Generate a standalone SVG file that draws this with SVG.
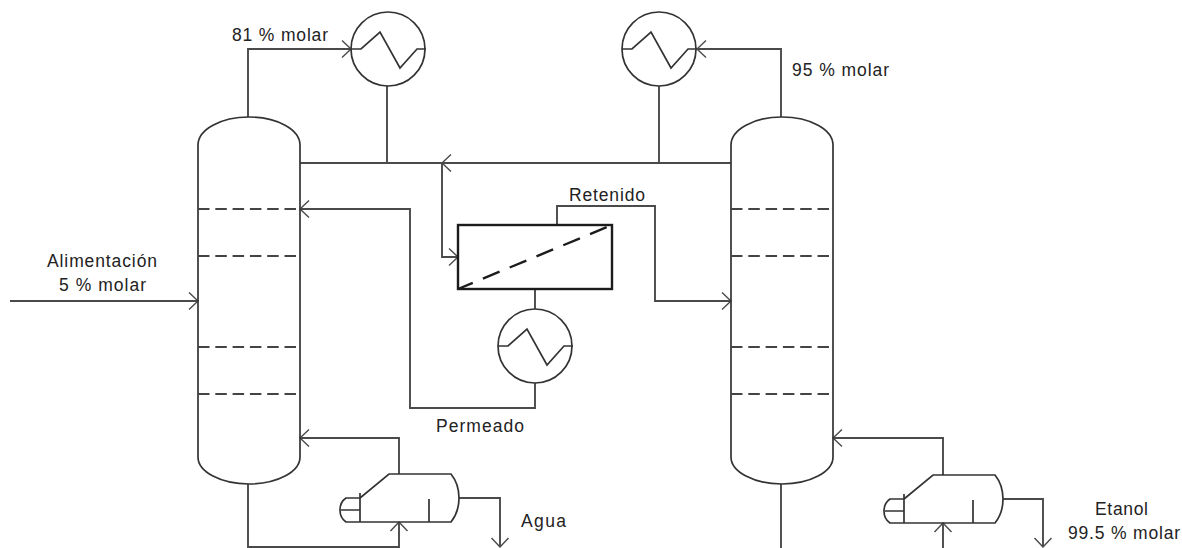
<svg xmlns="http://www.w3.org/2000/svg" width="1182" height="548" viewBox="0 0 1182 548">
<style>
.s{fill:none;stroke:#333;stroke-width:1.7}
.p{fill:none;stroke:#4a4a4a;stroke-width:1.9}
.d{fill:none;stroke:#444;stroke-width:1.8;stroke-dasharray:11.5 5.8}
.m{fill:none;stroke:#1c1c1c;stroke-width:2.4}
.md{fill:none;stroke:#1c1c1c;stroke-width:2.4;stroke-dasharray:18 11;stroke-dashoffset:2}
text{font-family:"Liberation Sans",Arial,sans-serif;font-size:17.5px;fill:#222}
</style>
<defs>
<marker id="a" markerUnits="userSpaceOnUse" markerWidth="12" markerHeight="20" refX="10.5" refY="10" orient="auto"><path d="M1.5 1.5L10.5 10L1.5 18.5" fill="none" stroke="#4a4a4a" stroke-width="1.4"/></marker>
<g id="hx"><circle class="s" cx="0" cy="0" r="37"/><path class="s" d="M-37 0H-27L-8 -17L12 19L29 0H38"/></g>
<g id="reb"><path class="s" d="M0 24L29 0H91Q99 10 99 24Q99 38 91 48H0M0 19V48M0 36H-19M0 24H-14Q-20 28 -20 36Q-20 44 -14 48H0M69 25V48"/></g>
<path id="col" class="s" d="M0 28A51 28 0 0 1 102 28V340A51 27 0 0 1 0 340Z"/>
</defs>
<g id="connectors">
<path class="p" d="M10 301H198" marker-end="url(#a)"/>
<path class="p" d="M248 117V49H351" marker-end="url(#a)"/>
<path class="p" d="M387 86V163"/>
<path class="p" d="M300 163H442" />
<path class="p" d="M731 163H442" marker-end="url(#a)"/>
<path class="p" d="M659 86V163"/>
<path class="p" d="M442 163V257H458" marker-end="url(#a)"/>
<path class="p" d="M557 225V206H655V301H731" marker-end="url(#a)"/>
<path class="p" d="M535 289V309"/>
<path class="p" d="M535 383V408H410V209H300" marker-end="url(#a)"/>
<path class="p" d="M781 117V49H697" marker-end="url(#a)"/>
<path class="p" d="M399 474V438H300" marker-end="url(#a)"/>
<path class="p" d="M248 484V547H399V522" marker-end="url(#a)"/>
<path class="p" d="M459 498H500V547" marker-end="url(#a)"/>
<path class="p" d="M943 475V438H833" marker-end="url(#a)"/>
<path class="p" d="M781 484V548"/>
<path class="p" d="M943 548V523" marker-end="url(#a)"/>
<path class="p" d="M1003 499H1043V547" marker-end="url(#a)"/>
</g>
<g id="column-left"><use href="#col" x="198" y="117"/>
<path class="d" d="M198 209H300M198 256H300M198 347H300M198 394H300"/></g>
<g id="column-right"><use href="#col" x="731" y="117"/>
<path class="d" d="M731 209H833M731 256H833M731 347H833M731 394H833"/></g>
<g id="condenser-left"><use href="#hx" x="388" y="49"/></g>
<g id="condenser-right"><use href="#hx" x="659" y="49"/></g>
<g id="cooler"><use href="#hx" x="535" y="346"/></g>
<g id="membrane"><rect class="m" x="458" y="225" width="154" height="64"/><path class="md" d="M458 289L612 225"/></g>
<g id="reboiler-left"><use href="#reb" x="360" y="474"/></g>
<g id="reboiler-right"><use href="#reb" x="904" y="475"/></g>
<g id="labels">
<text x="232" y="41" textLength="96">81 % molar</text>
<text x="792" y="76" textLength="97">95 % molar</text>
<text x="47" y="267" textLength="110">Alimentación</text>
<text x="59" y="291" textLength="87">5 % molar</text>
<text x="569" y="201" textLength="76">Retenido</text>
<text x="436" y="432" textLength="88">Permeado</text>
<text x="521" y="527" textLength="45">Agua</text>
<text x="1095" y="515" textLength="53">Etanol</text>
<text x="1068" y="539" textLength="112">99.5 % molar</text>
</g>
</svg>
